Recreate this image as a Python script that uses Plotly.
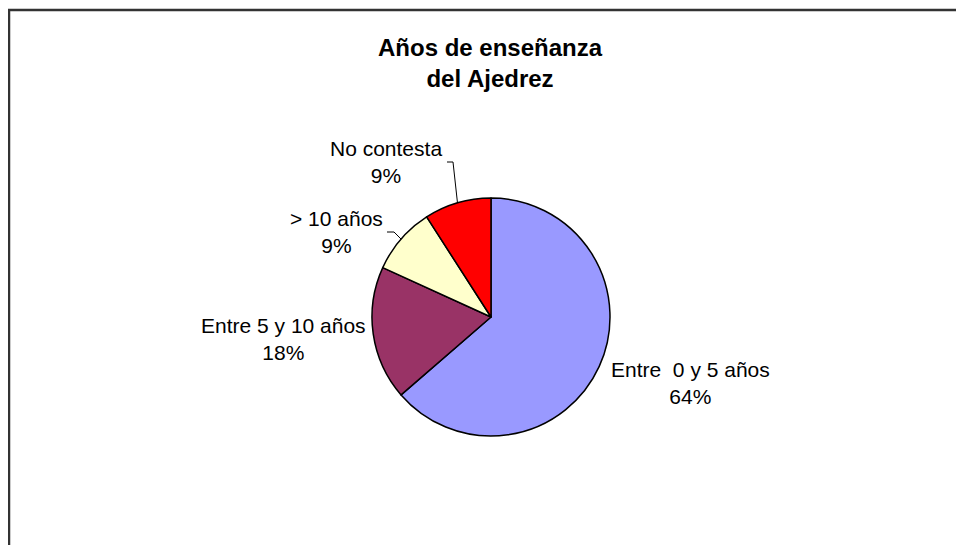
import math
import plotly.graph_objects as go

# data
categories = ["Entre  0 y 5 años", "Entre 5 y 10 años", "> 10 años", "No contesta"]
values = [7, 2, 1, 1]
colors = ["#9999FF", "#993366", "#FFFFCC", "#FF0000"]

# the page body has an 8px margin, so the figure sits at (8, 8)
W, H = 948, 537
OFF = 8
CX, CY, R = 491 - OFF, 317 - OFF, 119   # pie centre / radius in figure pixels


def px(x):
    return x / W


def py(y):
    return 1 - y / H


total = sum(values)
pcts = [round(v / total * 100) for v in values]

fig = go.Figure()
fig.add_trace(go.Pie(labels=categories,
                     values=values,
                     sort=False,
                     direction='clockwise',
                     rotation=0,
                     textinfo='none',
                     hoverinfo='label+percent',
                     marker=dict(colors=colors, line=dict(color='black', width=1.5)),
                     domain=dict(x=[px(CX - R), px(CX + R)], y=[py(CY + R), py(CY - R)]),
                     showlegend=False))

# label positions (text block centres, page pixels)
label_pos = [(690, 383), (283, 339), (336, 232), (386, 162)]
font = dict(family="Liberation Sans, Arial, sans-serif", size=21, color="black")
annotations = []
for cat, p, (lx, ly) in zip(categories, pcts, label_pos):
    annotations.append(dict(x=px(lx - OFF), y=py(ly - OFF), xref='paper', yref='paper',
                            text=f"{cat}<br>{p}%", showarrow=False, font=font,
                            align='center', xanchor='center', yanchor='middle'))

annotations.append(dict(x=px(490 - OFF), y=py(63 - OFF), xref='paper', yref='paper',
                        text="<b>Años de enseñanza<br>del Ajedrez</b>", showarrow=False,
                        font=dict(family="Liberation Sans, Arial, sans-serif", size=24, color="black"),
                        align='center', xanchor='center', yanchor='middle'))

# leader lines to slice mid-angle on the edge
cum = 0
mids = []
for v in values:
    mids.append((cum + v / 2) / total * 2 * math.pi)
    cum += v


def edge(i):
    a = mids[i]
    return CX + R * math.sin(a), CY - R * math.cos(a)


shapes = []
leader_stubs = {3: [(447, 162), (453, 162)], 2: [(387, 232), (394, 232)]}
for i, pts in leader_stubs.items():
    ex, ey = edge(i)
    path_pts = [(x - OFF, y - OFF) for x, y in pts] + [(ex, ey)]
    path = "M " + " L ".join(f"{px(x)},{py(y)}" for x, y in path_pts)
    shapes.append(dict(type='path', path=path, xref='paper', yref='paper',
                       line=dict(color='black', width=1)))

# chart frame: only the top and left edges are visible
fx, fy = 9 - OFF, 10 - OFF
frame = [(W + 40, fy), (fx, fy), (fx, H + 40)]
shapes.append(dict(type='path', xref='paper', yref='paper',
                   path="M " + " L ".join(f"{px(x)},{py(y)}" for x, y in frame),
                   line=dict(color='#333333', width=2.5)))

fig.update_layout(width=W, height=H, margin=dict(l=0, r=0, t=0, b=0),
                  paper_bgcolor='white', plot_bgcolor='white',
                  annotations=annotations, shapes=shapes)

fig.write_html("out.html")
